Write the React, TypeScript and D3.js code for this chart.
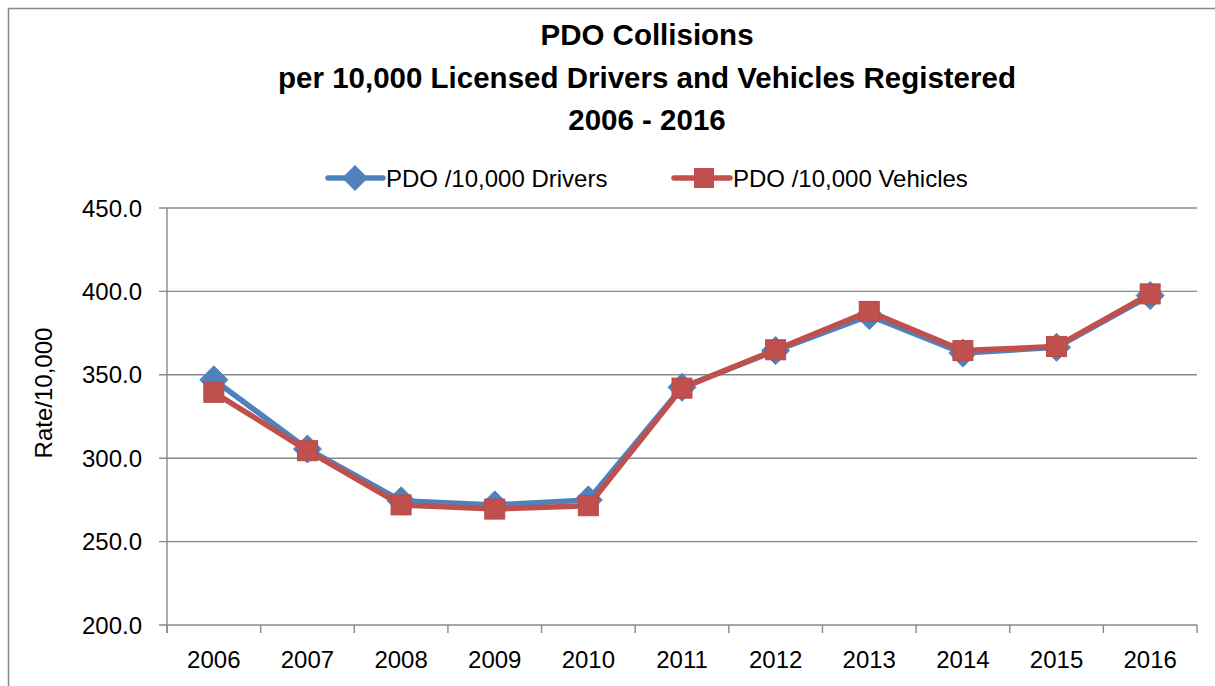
import React from "react";
import * as d3 from "d3";

const years = ["2006", "2007", "2008", "2009", "2010", "2011", "2012", "2013", "2014", "2015", "2016"];
const drivers = [347, 305.5, 274.5, 272, 275, 342.5, 364.5, 385.5, 363, 366.5, 397.5];
const vehicles = [339.5, 304.5, 272, 269.5, 271.5, 342, 365, 388, 364.5, 367, 398.5];
const yTicks = [200, 250, 300, 350, 400, 450];
const titleLines = ["PDO Collisions", "per 10,000 Licensed Drivers and Vehicles Registered", "2006 - 2016"];
const seriesNames = ["PDO /10,000 Drivers", "PDO /10,000 Vehicles"];

const W = 1215;
const H = 686;
const FONT = "'Liberation Sans', Arial, sans-serif";
const BLUE = "#4F81BD";
const RED = "#C0504D";
const GRID = "#898989";

export default function App() {
  const x = d3.scaleBand<string>().domain(years).range([167, 1197]).padding(0);
  const y = d3.scaleLinear().domain([200, 450]).range([625, 208]);
  const cx = (yr: string) => (x(yr) as number) + x.bandwidth() / 2;
  const line = d3
    .line<number>()
    .x((_, i) => cx(years[i]))
    .y((d) => y(d));

  const diamond = (px: number, py: number, r = 14) =>
    `M${px},${py - r}L${px + r},${py}L${px},${py + r}L${px - r},${py}Z`;

  const boundaries = years.map((yr) => x(yr) as number).concat([x.range()[1]]);

  return (
    <svg
      width={W}
      height={H}
      style={{ position: "absolute", left: 0, top: 0, background: "#fff" }}
      fontFamily={FONT}
    >
      <rect x={8.5} y={8.5} width={1400} height={900} fill="#fff" stroke="#878787" strokeWidth={1.5} />

      {/* title */}
      {titleLines.map((t, i) => (
        <text key={i} x={647} y={45 + i * 42.5} textAnchor="middle" fontSize={29.5} fontWeight="bold" fill="#000">
          {t}
        </text>
      ))}

      {/* gridlines */}
      {yTicks.map((t) => (
        <g key={t}>
          <line x1={159} x2={1197} y1={y(t)} y2={y(t)} stroke={GRID} strokeWidth={1.4} />
          <text x={142} y={y(t)} dy="0.36em" textAnchor="end" fontSize={24} fill="#000">
            {t.toFixed(1)}
          </text>
        </g>
      ))}

      {/* axes */}
      <line x1={167} x2={167} y1={208} y2={633} stroke={GRID} strokeWidth={1.4} />
      {boundaries.map((b, i) => (
        <line key={i} x1={b} x2={b} y1={625} y2={633} stroke={GRID} strokeWidth={1.4} />
      ))}
      {years.map((yr) => (
        <text key={yr} x={cx(yr)} y={668} textAnchor="middle" fontSize={24} fill="#000">
          {yr}
        </text>
      ))}

      <text transform="translate(52,393) rotate(-90)" textAnchor="middle" fontSize={24} fill="#000">
        Rate/10,000
      </text>

      {/* series */}
      <path d={line(drivers) || ""} fill="none" stroke={BLUE} strokeWidth={5.5} strokeLinejoin="round" />
      {drivers.map((v, i) => (
        <path key={i} d={diamond(cx(years[i]), y(v))} fill={BLUE} stroke={BLUE} strokeWidth={1} />
      ))}
      <path d={line(vehicles) || ""} fill="none" stroke={RED} strokeWidth={5.5} strokeLinejoin="round" />
      {vehicles.map((v, i) => (
        <rect key={i} x={cx(years[i]) - 10} y={y(v) - 10} width={20} height={20} fill={RED} stroke="#b84a47" strokeWidth={1} />
      ))}

      {/* legend */}
      <line x1={328} x2={383} y1={178} y2={178} stroke={BLUE} strokeWidth={5.5} strokeLinecap="round" />
      <path d={diamond(355, 178, 13)} fill={BLUE} />
      <text x={386} y={187} fontSize={24} fill="#000">
        {seriesNames[0]}
      </text>
      <line x1={674} x2={730} y1={178} y2={178} stroke={RED} strokeWidth={5.5} strokeLinecap="round" />
      <rect x={694} y={168} width={20} height={20} fill={RED} />
      <text x={733} y={187} fontSize={24} fill="#000">
        {seriesNames[1]}
      </text>
    </svg>
  );
}
